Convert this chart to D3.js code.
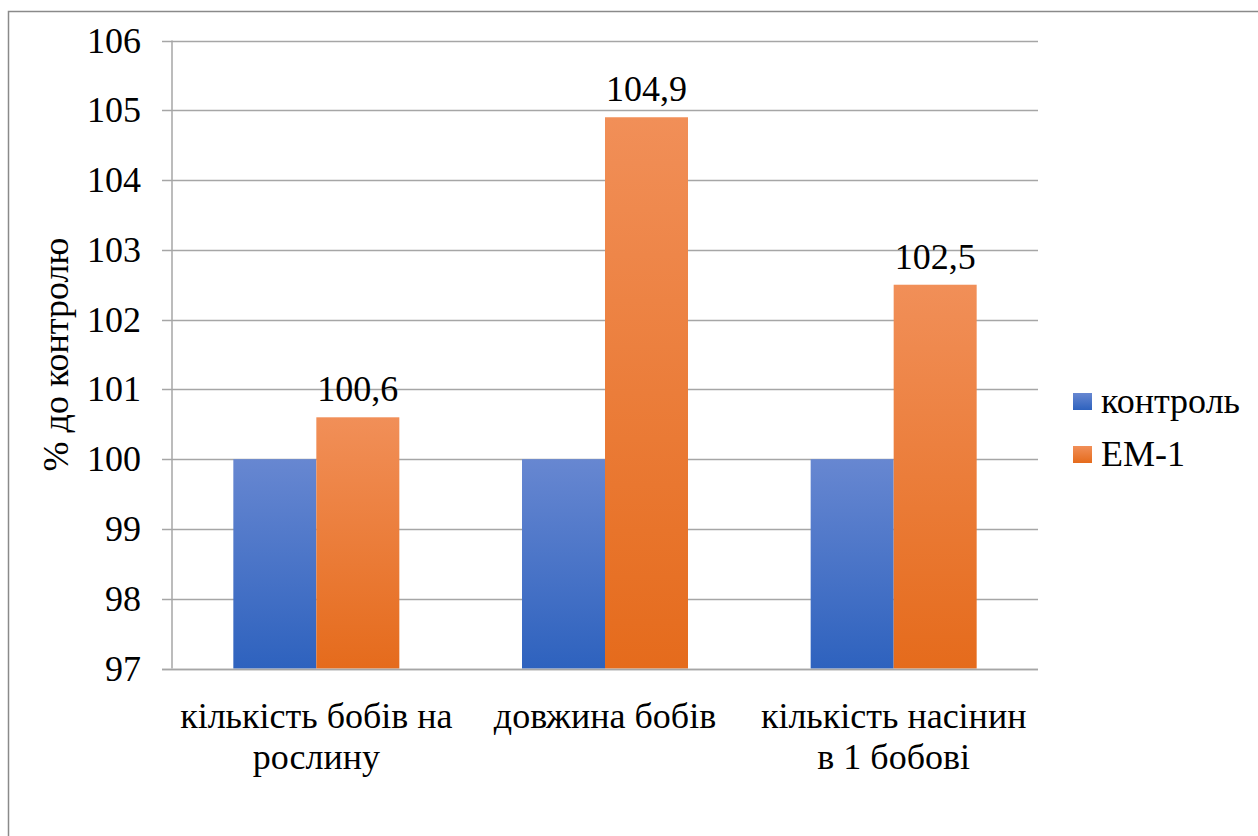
<!DOCTYPE html>
<html><head><meta charset="utf-8">
<script src="https://cdn.jsdelivr.net/npm/d3@7"></script>
</head><body style="margin:0">
<script>
const categories = [["кількість бобів на","рослину"],["довжина бобів"],["кількість насінин","в 1 бобові"]];
const seriesNames = ["контроль","ЕМ-1"];
const controlValues = [100, 100, 100];
const em1Values = [100.6, 104.9, 102.5];
const em1Labels = ["100,6","104,9","102,5"];
const yTicks = [97,98,99,100,101,102,103,104,105,106];
const yTitle = "% до контролю";

const W=1258,H=836;
const svg=d3.select("body").append("svg").attr("width",W).attr("height",H)
 .style("display","block").style("font-family",'"Liberation Serif"');
function txt(sel){return sel.style("font-family",`"Liberation Serif"`).style("font-size","36px");}

const defs=svg.append("defs");
function grad(id,top,bot){const g=defs.append("linearGradient").attr("id",id).attr("x1",0).attr("y1",0).attr("x2",0).attr("y2",1);
 g.append("stop").attr("offset","0%").attr("stop-color",top);g.append("stop").attr("offset","100%").attr("stop-color",bot);}
grad("gb","#6787d1","#2e62be");
grad("go","#f18f58","#e56b1c");
const fills=["url(#gb)","url(#go)"];

svg.append("path").attr("d",`M8.5,${H} V11.5 H${W}`).attr("fill","none").attr("stroke","#8a8a8a").attr("stroke-width",1.5);

const x0=172,x1=1038,yTop=40.5,yBot=668.5;
const y=d3.scaleLinear().domain([97,106]).range([yBot,yTop]);
const xb=d3.scaleBand().domain(d3.range(categories.length)).range([x0,x1]).paddingInner(0).paddingOuter(0);
const bw=83;

yTicks.forEach(t=>{
 svg.append("line").attr("x1",162).attr("x2",x1).attr("y1",Math.round(y(t))+0.5).attr("y2",Math.round(y(t))+0.5)
  .attr("stroke","#a6a6a6").attr("stroke-width",1.5);
 txt(svg.append("text").attr("x",141).attr("y",y(t)+12).attr("text-anchor","end")).text(String(t));
});
svg.append("line").attr("x1",x0).attr("x2",x0).attr("y1",yTop).attr("y2",yBot).attr("stroke","#a6a6a6").attr("stroke-width",1.5);

txt(svg.append("text").attr("transform",`translate(68,${(yTop+yBot)/2}) rotate(-90)`)
 .attr("text-anchor","middle")).text(yTitle);

const series=[controlValues,em1Values];
series.forEach((vals,si)=>{
 vals.forEach((d,i)=>{
  svg.append("rect").attr("x",xb(i)+xb.bandwidth()/2-bw+si*bw).attr("width",bw)
   .attr("y",y(d)).attr("height",yBot-y(d)).attr("fill",fills[si]);
 });
});
svg.append("line").attr("x1",162).attr("x2",x1).attr("y1",Math.round(y(97))+0.5).attr("y2",Math.round(y(97))+0.5).attr("stroke","#a6a6a6").attr("stroke-width",1.5);

em1Values.forEach((d,i)=>{
 txt(svg.append("text").attr("x",xb(i)+xb.bandwidth()/2+bw/2).attr("y",y(d)-16).attr("text-anchor","middle")).text(em1Labels[i]);
});

categories.forEach((lines,i)=>{
 lines.forEach((l,j)=>txt(svg.append("text").attr("x",xb(i)+xb.bandwidth()/2).attr("y",728+j*41).attr("text-anchor","middle")).text(l));
});

seriesNames.forEach((n,i)=>{
 svg.append("rect").attr("x",1073).attr("y",393+i*53).attr("width",19).attr("height",17).attr("fill",fills[i]);
 txt(svg.append("text").attr("x",1101).attr("y",413+i*53)).text(n);
});
</script>
</body></html>
